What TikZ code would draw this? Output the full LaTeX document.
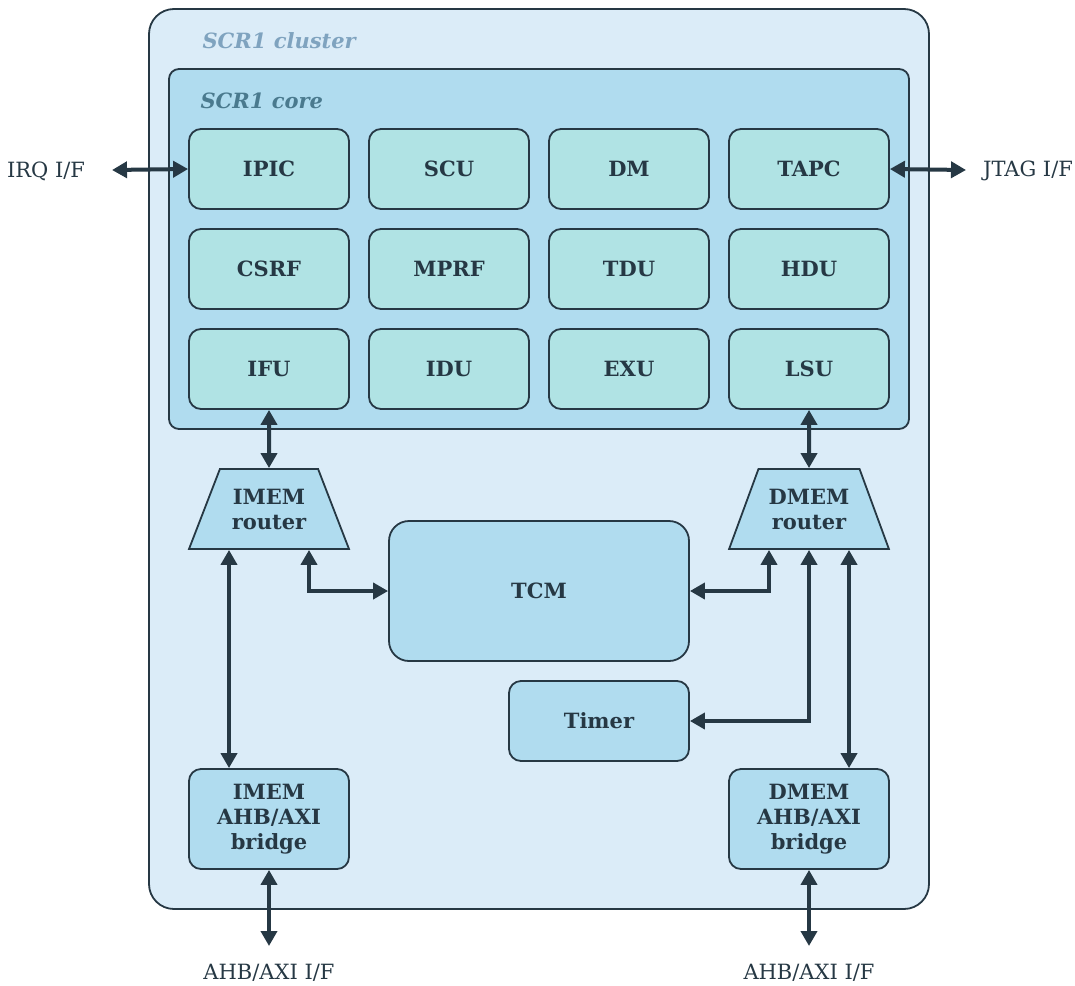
\documentclass[tikz,border=0pt]{standalone}
\usepackage{fontspec}
\setmainfont{DejaVu Serif}
\usetikzlibrary{shapes.geometric,arrows.meta}
\definecolor{ink}{HTML}{263844}
\definecolor{clusterfill}{HTML}{DBECF8}
\definecolor{corefill}{HTML}{B0DCEF}
\definecolor{unitfill}{HTML}{B0E3E4}
\definecolor{clusterlbl}{HTML}{7FA3BF}
\definecolor{corelbl}{HTML}{4A7A8E}
\tikzset{
  lbl/.style={font=\fontsize{21}{25}\selectfont\bfseries,text=ink,align=center},
  unit/.style={lbl,draw=ink,line width=1.8pt,fill=unitfill,rounded corners=12pt,minimum width=160pt,minimum height=80pt,inner sep=0pt},
  blk/.style={lbl,draw=ink,line width=1.8pt,fill=corefill,rounded corners=12pt,inner sep=0pt},
  router/.style={lbl,draw=ink,line width=1.8pt,fill=corefill,trapezium,trapezium stretches=true,minimum width=160pt,minimum height=80pt,inner sep=0pt},
  arr/.style={draw=ink,line width=4pt,{Triangle[length=15pt,width=16pt]}-{Triangle[length=15pt,width=16pt]}},
  iface/.style={font=\fontsize{21}{25}\selectfont,text=ink}
}
\begin{document}
\begin{tikzpicture}[x=1pt,y=-1pt]
\useasboundingbox (0,0) rectangle (1075,985);
% cluster
\node[draw=ink,line width=1.8pt,fill=clusterfill,rounded corners=25pt,minimum width=780pt,minimum height=900pt,inner sep=0pt] (cluster) at (539,459) {};
\node[anchor=west,font=\fontsize{21}{25}\selectfont\bfseries\itshape,text=clusterlbl] (clusterlabel) at (199,41) {SCR1 cluster};
% core
\node[draw=ink,line width=1.8pt,fill=corefill,rounded corners=10pt,minimum width=740pt,minimum height=360pt,inner sep=0pt] (core) at (539,249) {};
\node[anchor=west,font=\fontsize{21}{25}\selectfont\bfseries\itshape,text=corelbl] (corelabel) at (197,101) {SCR1 core};
% units
\node[unit] (ipic) at (269,169) {IPIC};
\node[unit] (scu)  at (449,169) {SCU};
\node[unit] (dm)   at (629,169) {DM};
\node[unit] (tapc) at (809,169) {TAPC};
\node[unit] (csrf) at (269,269) {CSRF};
\node[unit] (mprf) at (449,269) {MPRF};
\node[unit] (tdu)  at (629,269) {TDU};
\node[unit] (hdu)  at (809,269) {HDU};
\node[unit] (ifu)  at (269,369) {IFU};
\node[unit] (idu)  at (449,369) {IDU};
\node[unit] (exu)  at (629,369) {EXU};
\node[unit] (lsu)  at (809,369) {LSU};
% routers
\node[router] (irouter) at (269,509) {IMEM\\router};
\node[router] (drouter) at (809,509) {DMEM\\router};
% memory blocks
\node[blk,minimum width=300pt,minimum height=140pt,rounded corners=20pt] (tcm) at (539,591) {TCM};
\node[blk,minimum width=180pt,minimum height=80pt] (timer) at (599,721) {Timer};
\node[blk,minimum width=160pt,minimum height=100pt] (ibridge) at (269,819) {IMEM\\AHB/AXI\\bridge};
\node[blk,minimum width=160pt,minimum height=100pt] (dbridge) at (809,819) {DMEM\\AHB/AXI\\bridge};
% interfaces
\node[iface] (irq) at (46,171) {IRQ I/F};
\node[iface] (jtag) at (1028,171) {JTAG I/F};
\node[iface] (iahb) at (269,973) {AHB/AXI I/F};
\node[iface] (dahb) at (809,973) {AHB/AXI I/F};
\coordinate (irqend) at (112,170);
\coordinate (jtagend) at (966,170);
\coordinate (iahbend) at (269,946);
\coordinate (dahbend) at (809,946);
% connectors
\draw[arr] (irqend) -- (ipic.west);
\draw[arr] (jtagend) -- (tapc.east);
\draw[arr] (ifu.south) -- (irouter.north);
\draw[arr] (lsu.south) -- (drouter.north);
\draw[arr] (irouter.south -| 229,0) -- (ibridge.north -| 229,0);
\draw[arr] (irouter.south -| 309,0) |- (tcm.west);
\draw[arr] (drouter.south -| 769,0) |- (tcm.east);
\draw[arr] (drouter.south) |- (timer.east);
\draw[arr] (drouter.south -| 849,0) -- (dbridge.north -| 849,0);
\draw[arr] (ibridge.south) -- (iahbend);
\draw[arr] (dbridge.south) -- (dahbend);
\end{tikzpicture}
\end{document}
